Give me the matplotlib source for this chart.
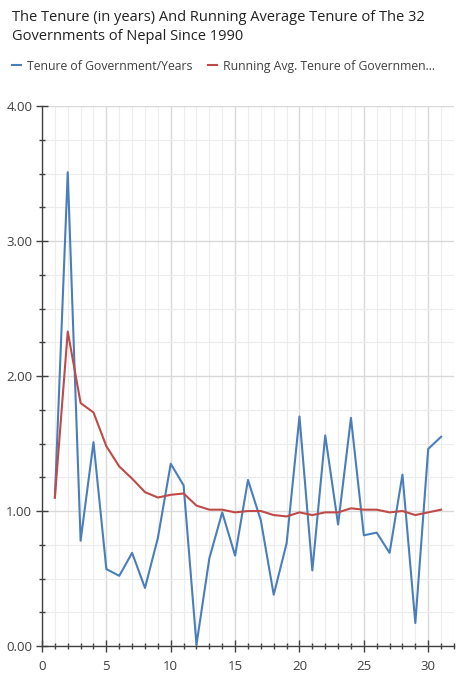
import matplotlib.pyplot as plt
from matplotlib.ticker import MultipleLocator

plt.rcParams['font.family'] = ['Open Sans', 'DejaVu Sans']

govt_no = list(range(1, 32))
tenure = [1.10, 3.51, 0.78, 1.51, 0.57, 0.52, 0.69, 0.43, 0.80, 1.35,
          1.19, 0.01, 0.65, 0.99, 0.67, 1.23, 0.93, 0.38, 0.76, 1.70,
          0.56, 1.56, 0.90, 1.69, 0.82, 0.84, 0.69, 1.27, 0.17, 1.46, 1.55]
running_avg = [1.10, 2.33, 1.80, 1.73, 1.48, 1.33, 1.24, 1.14, 1.10, 1.12,
               1.13, 1.04, 1.01, 1.01, 0.99, 1.00, 1.00, 0.97, 0.96, 0.99,
               0.97, 0.99, 0.99, 1.02, 1.01, 1.01, 0.99, 1.00, 0.97, 0.99, 1.01]

title = 'The Tenure (in years) And Running Average Tenure of The 32\nGovernments of Nepal Since 1990'
labels = ['Tenure of Government/Years', 'Running Avg. Tenure of Governmen...']

fig = plt.figure(figsize=(4.59, 6.8), dpi=100)
ax = fig.add_axes([0.0915, 0.05, 0.8975, 0.794])

l1, = ax.plot(govt_no, tenure, color='#4a7ebb', lw=1.5, zorder=3)
l2, = ax.plot(govt_no, running_avg, color='#be4b48', lw=1.5, zorder=3)

ax.set_xlim(0, 32)
ax.set_ylim(0, 4)
ax.xaxis.set_major_locator(MultipleLocator(5))
ax.xaxis.set_minor_locator(MultipleLocator(1))
ax.yaxis.set_major_locator(MultipleLocator(1))
ax.yaxis.set_minor_locator(MultipleLocator(0.25))
ax.yaxis.set_major_formatter(lambda v, p: '%.2f' % v)

ax.grid(which='minor', color='#ececec', lw=0.8)
ax.grid(which='major', color='#d9d9d9', lw=1.0)
ax.set_axisbelow(True)

for s in ['top', 'right']:
    ax.spines[s].set_visible(False)
for s in ['left', 'bottom']:
    ax.spines[s].set_color('#404040')
    ax.spines[s].set_linewidth(1.0)

ax.tick_params(which='major', direction='inout', length=8, width=1, color='#404040',
               labelcolor='#404040', labelsize=9.5)
ax.tick_params(which='minor', direction='inout', length=5, width=1, color='#404040')
ax.tick_params(axis='x', pad=6)
ax.tick_params(axis='y', pad=3)

fig.text(0.026, 0.985, title, ha='left', va='top', fontsize=10.5, color='#222222',
         linespacing=1.3)
fig.legend([l1, l2], labels, loc='upper left', bbox_to_anchor=(0.008, 0.925), ncol=2,
           frameon=False, handlelength=0.7, handletextpad=0.5, columnspacing=1.3,
           fontsize=8.8, labelcolor='#404040', borderaxespad=0.3)

fig.savefig('out.png', dpi=100)
